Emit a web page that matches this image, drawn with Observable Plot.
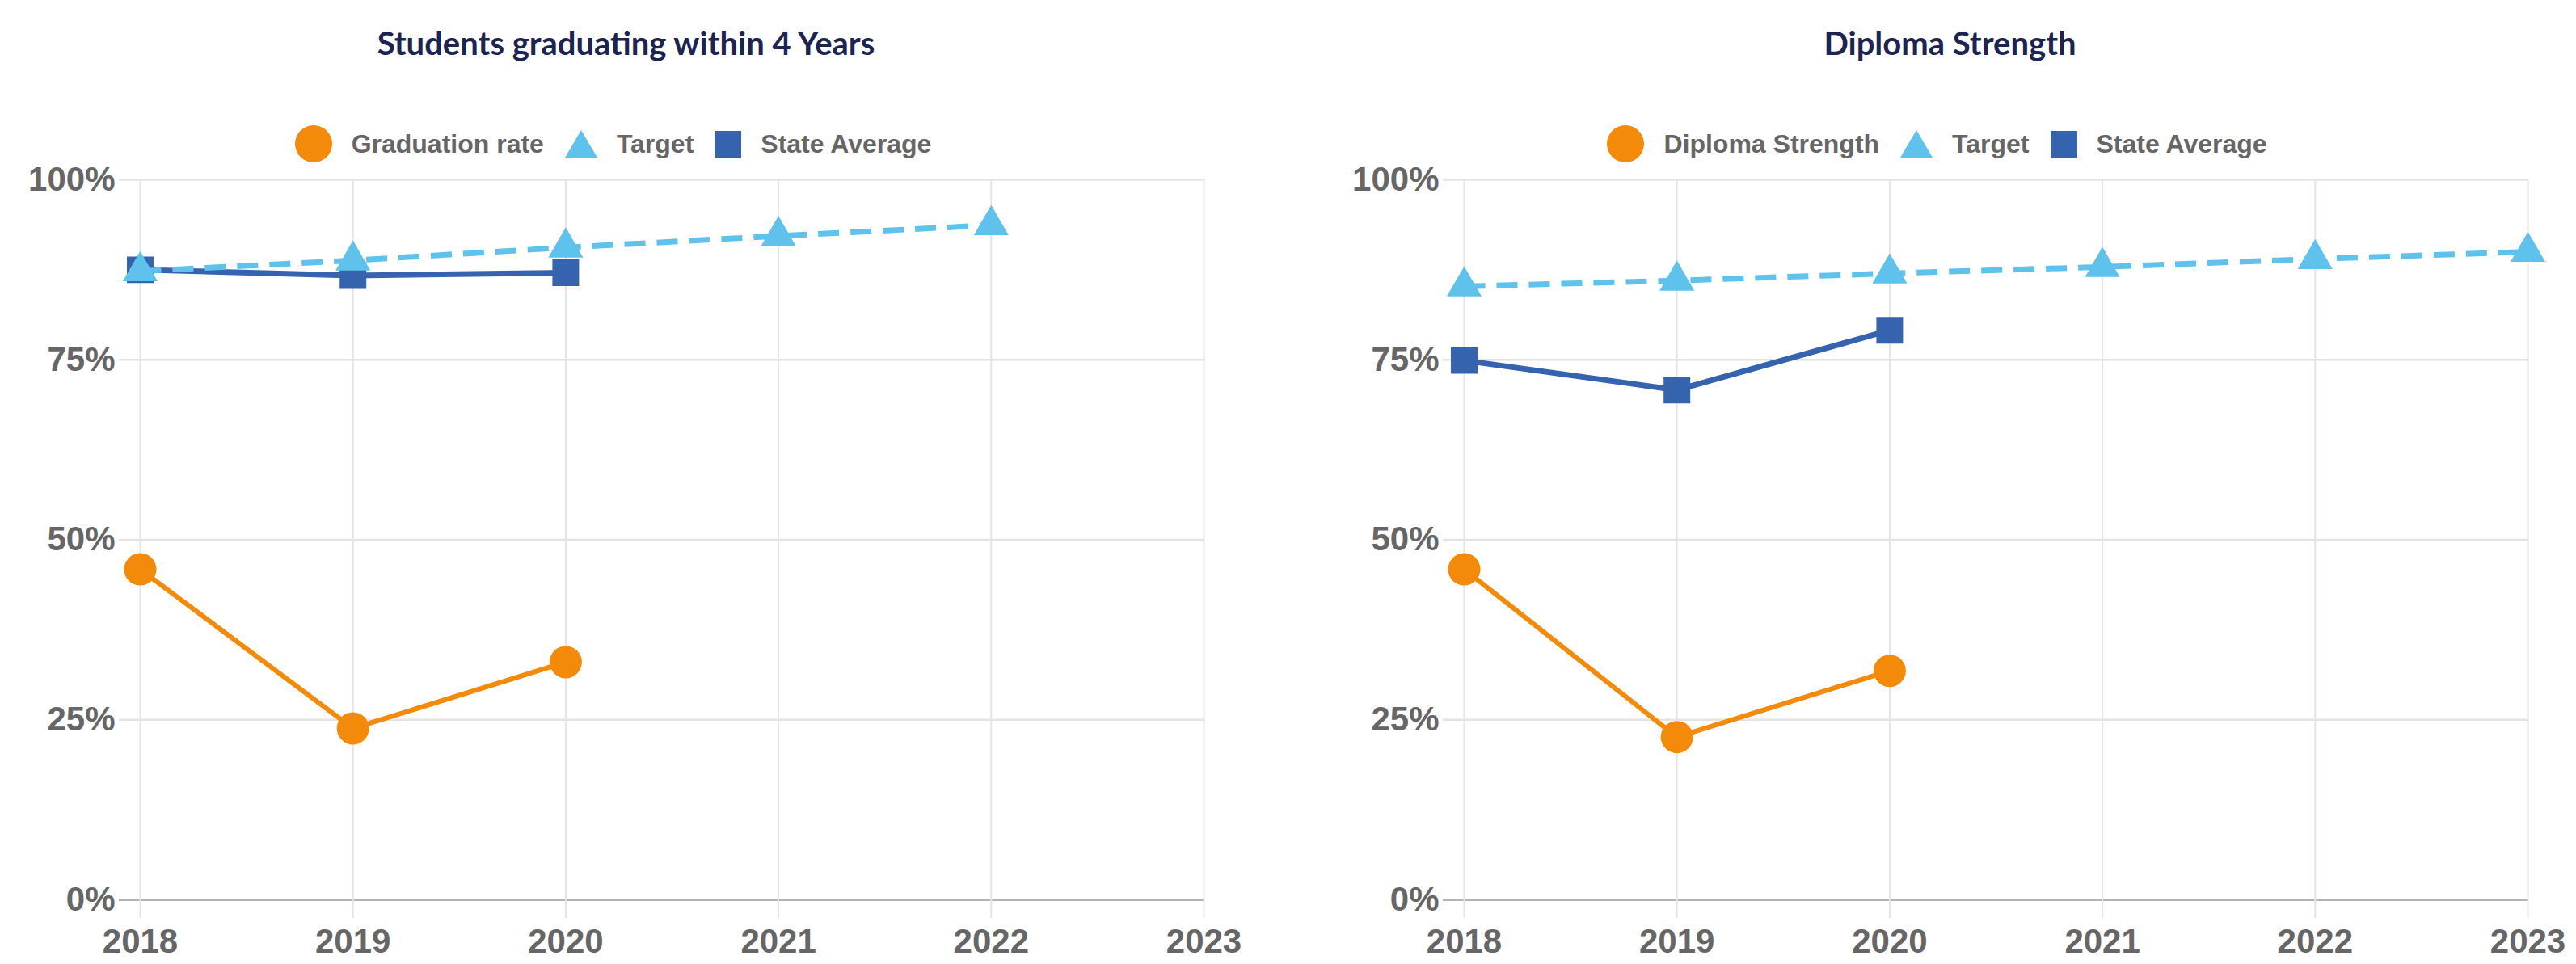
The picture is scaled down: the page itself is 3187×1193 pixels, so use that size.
<!DOCTYPE html>
<html>
<head>
<meta charset="utf-8">
<script src="https://cdn.jsdelivr.net/npm/d3@7"></script>
<script src="https://cdn.jsdelivr.net/npm/@observablehq/plot@0.6"></script>
<style>
  html, body { margin: 0; padding: 0; background: #fff; }
  body { width: 3187px; height: 1193px; position: relative; overflow: hidden; }
  .panel { position: absolute; top: 0; width: 1549px; height: 1193px; }
  .title { position: absolute; left: 0; width: 100%; top: 33px; text-align: center;
           font-family: Lato, "Noto Sans", sans-serif; font-weight: 700; font-size: 40px;
           line-height: 40px; color: #1c2452; }
  .legend { position: absolute; left: 0; width: 100%; top: 153px; height: 50px; box-sizing: border-box;
            padding-right: 32px; display: flex; justify-content: center; align-items: center;
            font-family: "Liberation Sans", Arial, sans-serif; font-weight: bold; font-size: 32px; color: #666;
            z-index: 2; }
  .item { display: flex; align-items: center; margin: 0 13px; }
  .item svg { margin-right: 24px; display: block; }
  .chart { position: absolute; left: 0; z-index: 1; }
</style>
</head>
<body>
<div id="p1" class="panel" style="left:0px"></div>
<div id="p2" class="panel" style="left:1638px"></div>
<script>
// ---- data ----
const years = [2018, 2019, 2020, 2021, 2022, 2023];
const yTicks = [0, 25, 50, 75, 100];

const gradTitle = "Students graduating within 4 Years";
const gradLabels = ["Graduation rate", "Target", "State Average"];
const gradYears = [2018, 2019, 2020];
const gradRate = [45.9, 23.8, 33.0];
const gradTargetYears = [2018, 2019, 2020, 2021, 2022];
const gradTarget = [87.3, 88.8, 90.6, 92.2, 93.7];
const gradStateAvg = [87.5, 86.7, 87.1];

const dipTitle = "Diploma Strength";
const dipLabels = ["Diploma Strength", "Target", "State Average"];
const dipYears = [2018, 2019, 2020];
const dipStrength = [45.9, 22.6, 31.8];
const dipTargetYears = [2018, 2019, 2020, 2021, 2022, 2023];
const dipTarget = [85.2, 86.0, 87.0, 87.9, 89.0, 90.0];
const dipStateAvg = [74.9, 70.8, 79.1];

const colors = {main: "#f38a0a", target: "#5ec2ec", state: "#3563ae"};

function rows(xs, vs) { return vs.map((v, i) => ({year: xs[i], value: v})); }

function legendMarker(kind, color) {
  const ns = "http://www.w3.org/2000/svg";
  const svg = document.createElementNS(ns, "svg");
  let el;
  if (kind === "circle") {
    svg.setAttribute("width", 46); svg.setAttribute("height", 46);
    el = document.createElementNS(ns, "circle");
    el.setAttribute("cx", 23); el.setAttribute("cy", 23); el.setAttribute("r", 23);
  } else if (kind === "triangle") {
    svg.setAttribute("width", 40); svg.setAttribute("height", 34);
    el = document.createElementNS(ns, "polygon");
    el.setAttribute("points", "20,0 40,34 0,34");
  } else {
    svg.setAttribute("width", 33); svg.setAttribute("height", 33);
    el = document.createElementNS(ns, "rect");
    el.setAttribute("width", 33); el.setAttribute("height", 33);
  }
  el.setAttribute("fill", color);
  svg.appendChild(el);
  return svg;
}

function panel(id, title, labels, mainX, mainV, tgtX, tgtV, stateV) {
  const host = document.getElementById(id);
  const t = document.createElement("div");
  t.className = "title"; t.textContent = title; host.appendChild(t);

  const lg = document.createElement("div");
  lg.className = "legend";
  const kinds = ["circle", "triangle", "square"];
  const cols = [colors.main, colors.target, colors.state];
  labels.forEach((lab, i) => {
    const it = document.createElement("div");
    it.className = "item";
    it.appendChild(legendMarker(kinds[i], cols[i]));
    const s = document.createElement("span"); s.textContent = lab;
    it.appendChild(s);
    lg.appendChild(it);
  });
  host.appendChild(lg);

  const main = rows(mainX, mainV);
  const tgt = rows(tgtX, tgtV);
  const st = rows(mainX, stateV);

  const chart = Plot.plot({
    width: 1549, height: 1023,
    marginLeft: 173, marginRight: 60, marginTop: 52, marginBottom: 80,
    style: {fontFamily: "'Liberation Sans', Arial, sans-serif", fontSize: "42px", fontWeight: "bold", color: "#666", background: "transparent"},
    x: {domain: [2018, 2023], label: null},
    y: {domain: [0, 100], label: null},
    marks: [
      Plot.gridX(years, {stroke: "#e4e4e4", strokeOpacity: 1, strokeWidth: 2}),
      Plot.gridY(yTicks.filter(d => d > 0), {stroke: "#e4e4e4", strokeOpacity: 1, strokeWidth: 2.5}),
      Plot.ruleY([0], {stroke: "#b3b3b3", strokeWidth: 3}),
      Plot.axisY({ticks: yTicks.filter(d => d > 0), tickSize: 26, tickPadding: 5, stroke: "#e4e4e4", strokeWidth: 2.5,
                  tickFormat: d => d + "%", fill: "#666", label: null}),
      Plot.axisY({ticks: [0], tickSize: 26, tickPadding: 5, stroke: "#b3b3b3", strokeWidth: 3,
                  tickFormat: d => d + "%", fill: "#666", label: null}),
      Plot.axisX({ticks: years, tickSize: 23, tickPadding: 13, stroke: "#e4e4e4", strokeWidth: 2,
                  tickFormat: d => String(d), fill: "#666", label: null}),
      // State average (drawn first, underneath)
      Plot.line(st, {x: "year", y: "value", stroke: colors.state, strokeWidth: 7}),
      Plot.dot(st, {x: "year", y: "value", symbol: "square", r: 18.6, fill: colors.state, stroke: "none"}),
      // Target
      Plot.line(tgt, {x: "year", y: "value", stroke: colors.target, strokeWidth: 7, strokeDasharray: "26,14", strokeLinecap: "butt"}),
      Plot.dot(tgt, {x: "year", y: "value", symbol: "triangle", r: 16, fill: colors.target, stroke: "none"}),
      // Main series
      Plot.line(main, {x: "year", y: "value", stroke: colors.main, strokeWidth: 6}),
      Plot.dot(main, {x: "year", y: "value", symbol: "circle", r: 20, fill: colors.main, stroke: "none"})
    ]
  });
  chart.classList.add("chart");
  chart.style.position = "absolute";
  chart.style.left = "0px";
  chart.style.top = "170px";
  host.appendChild(chart);
}

panel("p1", gradTitle, gradLabels, gradYears, gradRate, gradTargetYears, gradTarget, gradStateAvg);
panel("p2", dipTitle, dipLabels, dipYears, dipStrength, dipTargetYears, dipTarget, dipStateAvg);
</script>
</body>
</html>
